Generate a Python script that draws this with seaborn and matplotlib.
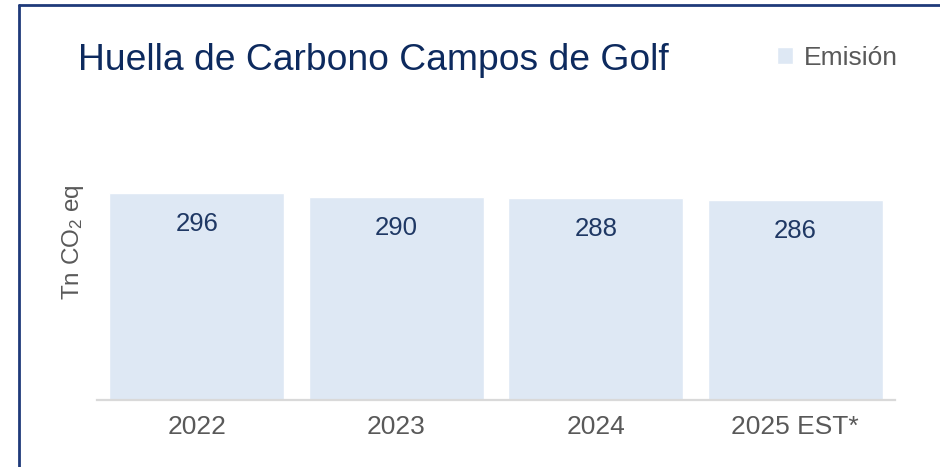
import matplotlib
matplotlib.use("Agg")
import matplotlib.pyplot as plt
from matplotlib.lines import Line2D
import seaborn as sns
import pandas as pd

# data
years = ["2022", "2023", "2024", "2025 EST*"]
emision = [296, 290, 288, 286]

sns.set_style("white")
plt.rcParams["font.family"] = ["Liberation Sans", "DejaVu Sans"]
plt.rcParams["mathtext.fontset"] = "custom"
plt.rcParams["mathtext.rm"] = "Liberation Sans"
plt.rcParams["mathtext.it"] = "Liberation Sans"

df = pd.DataFrame({"year": years, "emision": emision})

W, H = 940, 467
fig = plt.figure(figsize=(W / 100, H / 100), dpi=100)
ax = fig.add_axes([97 / W, 67 / H, 798 / W, 245 / H])

sns.barplot(data=df, x="year", y="emision", color="#DEE8F4", saturation=1,
            width=0.875, label="Emisión", ax=ax)

ax.bar_label(ax.containers[0], padding=-31, fontsize=18.5, color="#1F3864")

ax.set_ylim(0, 350)
ax.set_xlim(-0.5, 3.5)
ax.set_yticks([])
ax.set_xlabel("")
ax.set_ylabel("Tn CO$_2$ eq", fontsize=17.5, color="#595959")
ax.yaxis.set_label_coords(-0.014, 0.645)
ax.tick_params(axis="x", length=0, pad=11, labelsize=19, labelcolor="#595959")

for s in ["top", "right", "left"]:
    ax.spines[s].set_visible(False)
ax.spines["bottom"].set_color("#D9D9D9")
ax.spines["bottom"].set_linewidth(1.6)

# title
fig.text(78 / W, 1 - 61 / H, "Huella de Carbono Campos de Golf",
         fontsize=26.8, color="#0D2A5E", va="center", ha="left")

# legend
leg = ax.legend(loc="center left", bbox_to_anchor=(777 / W, 1 - 58 / H),
                bbox_transform=fig.transFigure, frameon=False,
                handlelength=0.6, handleheight=0.6, handletextpad=0.42,
                borderpad=0, borderaxespad=0, fontsize=19)
for t in leg.get_texts():
    t.set_color("#595959")

# frame border (left and top)
fig.add_artist(Line2D([19 / W, 19 / W], [0, 1 - 5 / H], color="#1F3A7A",
                      linewidth=2, transform=fig.transFigure))
fig.add_artist(Line2D([19 / W, 1], [1 - 5 / H, 1 - 5 / H], color="#1F3A7A",
                      linewidth=2, transform=fig.transFigure))

fig.savefig("out.png", dpi=100)
